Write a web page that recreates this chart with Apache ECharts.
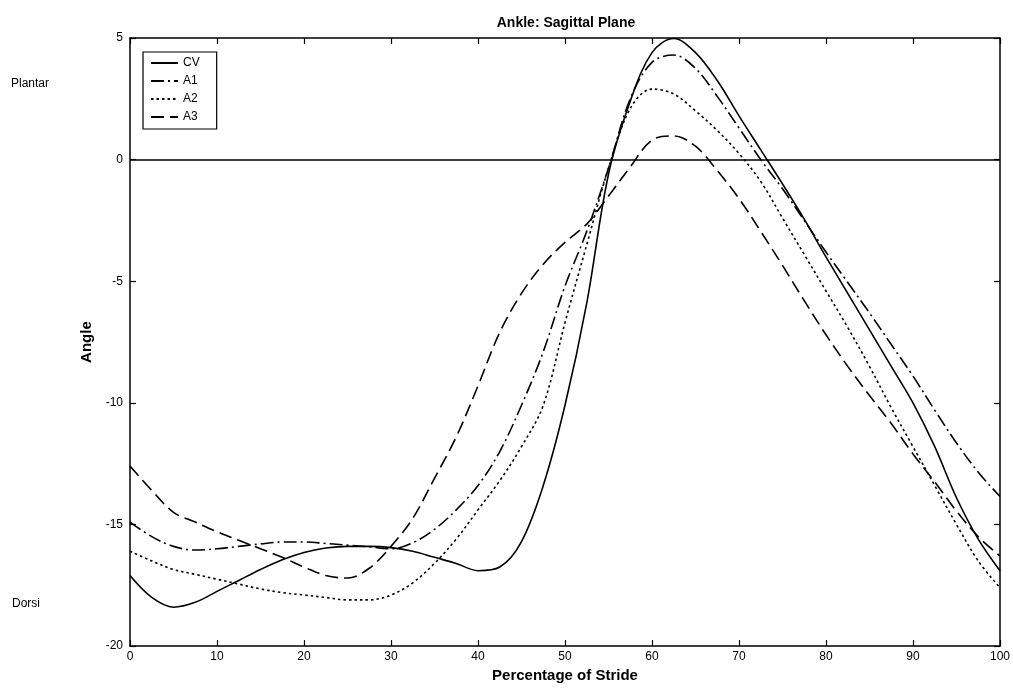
<!DOCTYPE html>
<html>
<head>
<meta charset="utf-8">
<script src="https://cdn.jsdelivr.net/npm/echarts@6/dist/echarts.min.js"></script>
<style>
  html, body { margin: 0; padding: 0; background: #fff; }
  #chart { width: 1013px; height: 688px; }
</style>
</head>
<body>
<div id="chart"></div>
<script>
// Percentage of stride at which each angle is sampled
const stride = [0, 2.5, 5, 7.5, 10, 12.5, 15, 17.5, 20, 22.5, 25, 27.5, 30, 32.5, 35, 37.5, 40, 42.5, 45, 47.5,
                50, 52.5, 55, 57.5, 60, 62.5, 65, 67.5, 70, 72.5, 75, 77.5, 80, 82.5, 85, 87.5, 90, 92.5, 95, 97.5, 100];

// Ankle angle (degrees) per condition
const cv = [-17.1, -18.0, -18.4, -18.2, -17.75, -17.3, -16.85, -16.45, -16.15, -15.97, -15.9, -15.9, -15.95, -16.1, -16.35, -16.6, -16.9, -16.75, -15.7, -13.4,
            -10.1, -5.9, -0.6, 2.4, 4.4, 4.98, 4.4, 3.25, 1.8, 0.4, -1.0, -2.45, -4.0, -5.5, -7.0, -8.5, -10.0, -11.8, -13.9, -15.6, -16.9];
const a1 = [-14.9, -15.5, -15.9, -16.05, -16.0, -15.9, -15.8, -15.72, -15.72, -15.78, -15.85, -15.92, -16.0, -15.75, -15.2, -14.4, -13.4, -12.0, -10.1, -7.9,
            -5.2, -2.95, -0.35, 2.5, 4.0, 4.3, 3.75, 2.6, 1.3, 0.0, -1.2, -2.5, -3.8, -5.05, -6.3, -7.6, -8.9, -10.3, -11.65, -12.85, -13.85];
const a2 = [-16.1, -16.5, -16.85, -17.05, -17.25, -17.45, -17.65, -17.8, -17.9, -18.0, -18.1, -18.1, -17.9, -17.4, -16.6, -15.6, -14.4, -13.2, -11.8, -10.1,
            -6.7, -3.5, -0.35, 2.1, 2.9, 2.7, 2.0, 1.2, 0.25, -0.9, -2.4, -3.9, -5.4, -6.9, -8.5, -10.2, -11.8, -13.4, -15.0, -16.5, -17.6];
const a3 = [-12.6, -13.6, -14.5, -14.9, -15.3, -15.65, -16.0, -16.35, -16.75, -17.1, -17.2, -16.8, -15.9, -14.75, -13.1, -11.4, -9.3, -7.1, -5.5, -4.3,
            -3.4, -2.65, -1.5, -0.3, 0.8, 0.97, 0.55, -0.45, -1.6, -2.95, -4.35, -5.8, -7.2, -8.5, -9.7, -10.85, -12.1, -13.25, -14.45, -15.5, -16.3];

const seriesNames = ['CV', 'A1', 'A2', 'A3'];
const seriesValues = [cv, a1, a2, a3];
const dashStyles = ['solid', [13, 4, 2, 4], [2.5, 3], [13, 6]];

const font = 'Liberation Sans, Arial, sans-serif';

const chart = echarts.init(document.getElementById('chart'), null, { renderer: 'canvas' });

const series = seriesNames.map((name, k) => ({
  name: name,
  type: 'line',
  smooth: 0.35,
  showSymbol: false,
  symbol: 'none',
  data: stride.map((x, i) => [x, seriesValues[k][i]]),
  lineStyle: { color: '#000', width: 1.6, type: dashStyles[k] },
  itemStyle: { color: '#000' },
  z: 3
}));

// Zero reference line across the plot
series[0].markLine = {
  silent: true,
  symbol: 'none',
  label: { show: false },
  lineStyle: { color: '#000', type: 'solid', width: 1.5 },
  data: [{ yAxis: 0 }]
};

const axisCommon = {
  axisLine: { show: true, onZero: false, lineStyle: { color: '#000', width: 1.5 } },
  axisTick: { show: true, inside: true, length: 6, lineStyle: { color: '#000', width: 1.2 } },
  splitLine: { show: false }
};

chart.setOption({
  animation: false,
  backgroundColor: '#fff',
  title: {
    text: 'Ankle: Sagittal Plane',
    left: 561, top: 11, textAlign: 'center',
    textStyle: { fontFamily: font, fontWeight: 'bold', fontSize: 14, color: '#000' }
  },
  legend: {
    show: true,
    orient: 'vertical',
    left: 143, top: 52,
    data: seriesNames,
    itemWidth: 27, itemHeight: 12, itemGap: 6,
    padding: [5, 17, 6, 7],
    borderColor: '#000', borderWidth: 1.2, backgroundColor: '#fff',
    // line samples only, no marker dot
    itemStyle: { opacity: 0, color: 'transparent', borderWidth: 0 },
    textStyle: { fontFamily: font, fontSize: 12, color: '#000' },
    z: 10
  },
  grid: { left: 130, right: 9, top: 38, bottom: 37, containLabel: false },
  xAxis: [
    Object.assign({
      type: 'value', min: 0, max: 100, interval: 10, position: 'bottom',
      name: 'Percentage of Stride', nameLocation: 'middle', nameGap: 20,
      nameTextStyle: { fontFamily: font, fontWeight: 'bold', fontSize: 15, color: '#000' },
      axisLabel: { fontFamily: font, fontSize: 12, color: '#000', margin: 5 }
    }, axisCommon),
    Object.assign({
      type: 'value', min: 0, max: 100, interval: 10, position: 'top',
      axisLabel: { show: false }
    }, axisCommon)
  ],
  yAxis: [
    Object.assign({
      type: 'value', min: -20, max: 5, interval: 5, position: 'left',
      name: 'Angle', nameLocation: 'middle', nameGap: 34, nameRotate: 90,
      nameTextStyle: { fontFamily: font, fontWeight: 'bold', fontSize: 15, color: '#000' },
      axisLabel: { fontFamily: font, fontSize: 12, color: '#000', margin: 7 }
    }, axisCommon),
    Object.assign({
      type: 'value', min: -20, max: 5, interval: 5, position: 'right',
      axisLabel: { show: false }
    }, axisCommon)
  ],
  graphic: [
    { type: 'text', left: 11, top: 78, style: { text: 'Plantar', fontFamily: font, fontSize: 12, fill: '#000' } },
    { type: 'text', left: 12, top: 598, style: { text: 'Dorsi', fontFamily: font, fontSize: 12, fill: '#000' } }
  ],
  series: series
});
</script>
</body>
</html>
